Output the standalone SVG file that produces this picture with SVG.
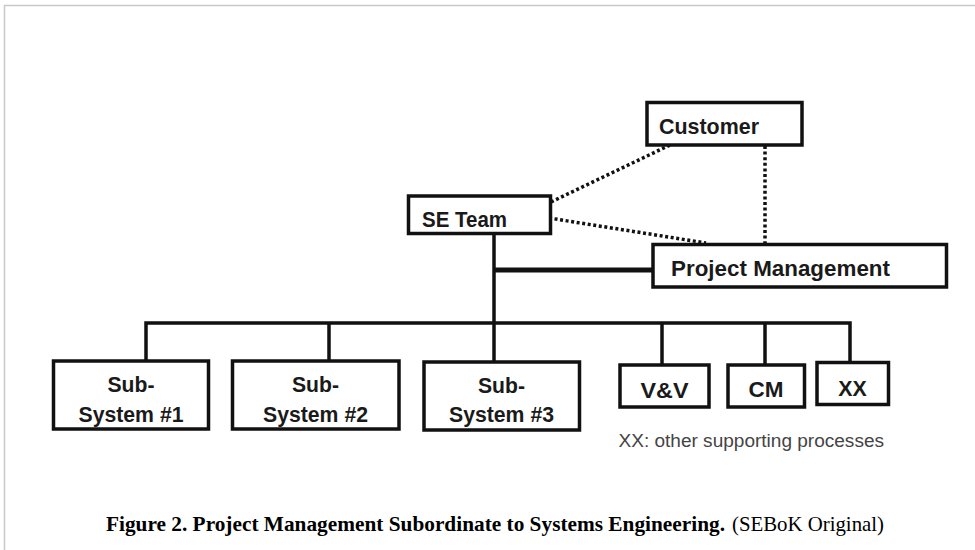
<svg xmlns="http://www.w3.org/2000/svg" width="975" height="550" viewBox="0 0 975 550">
<style>
.box{fill:#fff;stroke:#111;stroke-width:3.5}
.lbl{font-family:"Liberation Sans",Arial,sans-serif;font-weight:bold;font-size:22px;fill:#1a1a1a}
.ctr{text-anchor:middle}
.ln{fill:none;stroke:#111;stroke-width:3.5}
.dot{fill:none;stroke:#111;stroke-width:3.5;stroke-dasharray:3 2.6}
.note{font-family:"Liberation Sans",Arial,sans-serif;font-size:18px;fill:#444}
.cap{font-family:"Liberation Serif","Times New Roman",serif;font-size:21px;fill:#000}
</style>
<rect x="0" y="0" width="975" height="550" fill="#fff"/>
<path d="M4.5 550V5.5H975" fill="none" stroke="#c8c8c8" stroke-width="1.5"/>
<g id="connectors">
<path class="dot" d="M551 202L670 145"/>
<path class="dot" d="M549 218L706 243"/>
<path class="dot" d="M765 146V244"/>
<path class="ln" d="M494 233V362"/>
<path class="ln" d="M494 270H652" style="stroke-width:5"/>
<path class="ln" d="M146 361V323H850V362"/>
<path class="ln" d="M329 323V361"/>
<path class="ln" d="M662 323V365"/>
<path class="ln" d="M765 323V365"/>
</g>
<g id="customer"><rect class="box" x="647" y="102.5" width="155" height="42.5"/><text class="lbl" x="659" y="134" textLength="100" lengthAdjust="spacingAndGlyphs">Customer</text></g>
<g id="se-team"><rect class="box" x="408.5" y="196" width="142" height="37.5"/><text class="lbl" x="422" y="227" textLength="85" lengthAdjust="spacingAndGlyphs">SE Team</text></g>
<g id="project-management"><rect class="box" x="653" y="244.5" width="293.5" height="42.5"/><text class="lbl" x="671" y="276" textLength="219" lengthAdjust="spacingAndGlyphs">Project Management</text></g>
<g id="subsystem1"><rect class="box" x="53.5" y="361" width="155" height="68"/><text class="lbl ctr" x="131" y="392" textLength="47" lengthAdjust="spacingAndGlyphs">Sub-</text><text class="lbl ctr" x="131" y="421.5" textLength="105" lengthAdjust="spacingAndGlyphs">System #1</text></g>
<g id="subsystem2"><rect class="box" x="232.5" y="361" width="166.5" height="68"/><text class="lbl ctr" x="315.5" y="392" textLength="47" lengthAdjust="spacingAndGlyphs">Sub-</text><text class="lbl ctr" x="315.5" y="421.5" textLength="105" lengthAdjust="spacingAndGlyphs">System #2</text></g>
<g id="subsystem3"><rect class="box" x="424" y="362" width="155.5" height="68"/><text class="lbl ctr" x="501.5" y="392.5" textLength="47" lengthAdjust="spacingAndGlyphs">Sub-</text><text class="lbl ctr" x="501.5" y="422" textLength="105" lengthAdjust="spacingAndGlyphs">System #3</text></g>
<g id="vv"><rect class="box" x="620" y="365" width="89" height="42"/><text class="lbl ctr" x="664.5" y="397.5" textLength="48" lengthAdjust="spacingAndGlyphs">V&amp;V</text></g>
<g id="cm"><rect class="box" x="728" y="365" width="76.5" height="42"/><text class="lbl ctr" x="766" y="397" textLength="35" lengthAdjust="spacingAndGlyphs">CM</text></g>
<g id="xx"><rect class="box" x="817" y="362.5" width="71.5" height="42"/><text class="lbl ctr" x="852.5" y="395.5" textLength="28.5" lengthAdjust="spacingAndGlyphs">XX</text></g>
<text class="note" x="618.5" y="446.5" textLength="265.5" lengthAdjust="spacingAndGlyphs">XX: other supporting processes</text>
<text class="cap" x="106" y="530.5" font-weight="bold" textLength="619" lengthAdjust="spacingAndGlyphs">Figure 2. Project Management Subordinate to Systems Engineering.</text>
<text class="cap" x="732" y="530.5" textLength="152" lengthAdjust="spacingAndGlyphs">(SEBoK Original)</text>
</svg>
